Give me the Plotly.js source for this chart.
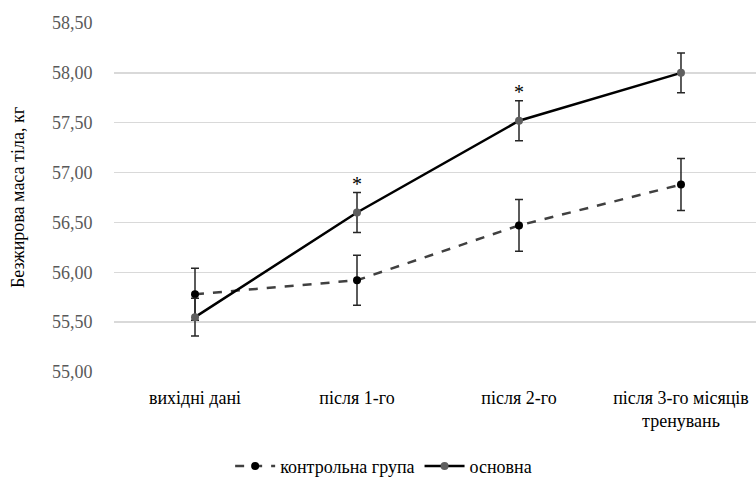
<!DOCTYPE html>
<html>
<head>
<meta charset="utf-8">
<script src="https://cdn.plot.ly/plotly-3.0.1.min.js"></script>
<style>html,body{margin:0;padding:0;background:#fff;}#chart{width:756px;height:477px;}
#chart svg text{font-family:"Times New Roman","Liberation Serif",serif !important;}</style>
</head>
<body>
<div id="chart"></div>
<script>
const categories = ["вихідні дані", "після 1-го", "після 2-го", "після 3-го місяців<br>тренувань"];
const controlValues = [55.78, 55.92, 56.47, 56.88];
const controlErr = [0.26, 0.25, 0.26, 0.26];
const mainValues = [55.55, 56.60, 57.52, 58.00];
const mainErr = [0.19, 0.20, 0.20, 0.20];
const significant = [false, true, true, false];
const seriesNames = ["контрольна група", "основна"];
const yTicks = [55.0, 55.5, 56.0, 56.5, 57.0, 57.5, 58.0, 58.5];

const fontFam = "Times New Roman";

const traces = [
  {
    x: categories, y: controlValues, name: seriesNames[0], type: "scatter", mode: "lines+markers",
    line: {color: "#404040", width: 2.5, dash: "dash"},
    marker: {color: "#000000", size: 8},
    error_y: {type: "data", array: controlErr, visible: true, color: "#262626", thickness: 1.5, width: 4}
  },
  {
    x: categories, y: mainValues, name: seriesNames[1], type: "scatter", mode: "lines+markers",
    line: {color: "#000000", width: 2.5},
    marker: {color: "#5f5f5f", size: 8},
    error_y: {type: "data", array: mainErr, visible: true, color: "#262626", thickness: 1.5, width: 4}
  }
];

const annotations = [];
significant.forEach((s, i) => {
  if (s) annotations.push({
    x: categories[i], y: mainValues[i] + mainErr[i], xref: "x", yref: "y",
    text: "*", showarrow: false, yanchor: "bottom", yshift: -4,
    font: {family: fontFam, size: 20, color: "#000"}
  });
});

const layout = {
  width: 756, height: 477,
  margin: {l: 114, r: 0, t: 23, b: 105, autoexpand: false},
  paper_bgcolor: "#fff", plot_bgcolor: "#fff",
  separators: ", ",
  font: {family: fontFam, size: 18, color: "#595959"},
  showlegend: true,
  legend: {orientation: "h", x: 0.42, xanchor: "center", y: -0.27, yanchor: "middle",
           font: {family: fontFam, size: 18, color: "#000"}, itemwidth: 40, tracegroupgap: 0},
  xaxis: {
    type: "category", range: [-0.5, 3.463], showgrid: false, zeroline: false,
    showline: false, ticks: "outside", ticklen: 9, tickcolor: "rgba(0,0,0,0)",
    tickfont: {family: fontFam, size: 18, color: "#000"},
    automargin: false
  },
  yaxis: {
    range: [55, 58.5], tickvals: yTicks, tickformat: ".2f",
    showgrid: true, gridcolor: "#d9d9d9", gridwidth: 1.5, zeroline: false,
    ticks: "outside", ticklen: 17, tickcolor: "rgba(0,0,0,0)",
    tickfont: {family: fontFam, size: 18, color: "#595959"},
    title: {text: "Безжирова маса тіла, кг", font: {family: fontFam, size: 18, color: "#000"}, standoff: 22},
    automargin: false
  },
  annotations: annotations
};

Plotly.newPlot("chart", traces, layout, {displayModeBar: false, staticPlot: true});
</script>
</body>
</html>
